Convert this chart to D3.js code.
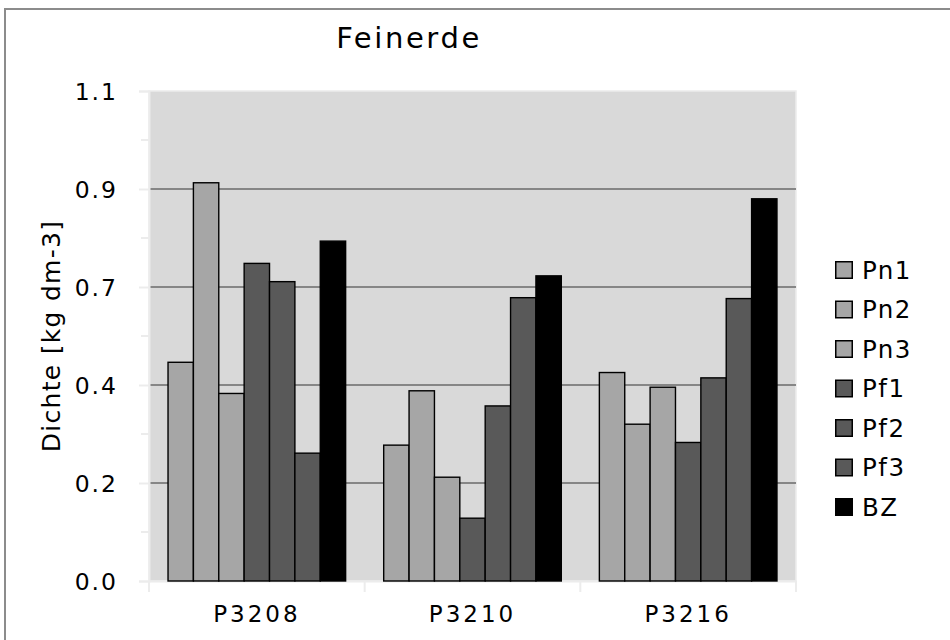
<!DOCTYPE html>
<html>
<head>
<meta charset="utf-8">
<script src="https://cdn.jsdelivr.net/npm/d3@7"></script>
<style>
  html, body { margin: 0; padding: 0; background: #fff; }
  svg { display: block; font-family: "DejaVu Sans", sans-serif; }
</style>
</head>
<body>
<svg id="chart" width="950" height="640"></svg>
<script>
// Feinerde density per profile and sample series
const categories = ["P3208", "P3210", "P3216"];
const seriesNames = ["Pn1", "Pn2", "Pn3", "Pf1", "Pf2", "Pf3", "BZ"];
const seriesColors = ["#a6a6a6", "#a6a6a6", "#a6a6a6", "#595959", "#595959", "#595959", "#000000"];
const Pn1 = [0.491, 0.305, 0.468];
const Pn2 = [0.894, 0.427, 0.352];
const Pn3 = [0.421, 0.233, 0.435];
const Pf1 = [0.713, 0.141, 0.311];
const Pf2 = [0.672, 0.393, 0.456];
const Pf3 = [0.287, 0.636, 0.634];
const BZ  = [0.763, 0.685, 0.858];
const yTicks = [0, 0.22, 0.44, 0.66, 0.88, 1.1];
const yMinorTicks = [0.11, 0.33, 0.55, 0.77, 0.99];

const seriesValues = [Pn1, Pn2, Pn3, Pf1, Pf2, Pf3, BZ];
const svg = d3.select("#chart");

const plot = { left: 149, right: 796, top: 91, bottom: 581 };

// outer chart frame
svg.append("rect")
  .attr("x", 5).attr("y", 9).attr("width", 1000).attr("height", 1000)
  .attr("fill", "#fff").attr("stroke", "#8c8c8c").attr("stroke-width", 2);

const x0 = d3.scaleBand().domain(categories).range([plot.left, plot.right]).paddingInner(0).paddingOuter(0);
const barW = x0.bandwidth() / (seriesNames.length + 1.5);
const x1 = d3.scaleBand().domain(seriesNames)
  .range([barW * 0.75, barW * 0.75 + barW * seriesNames.length]);
const y = d3.scaleLinear().domain([0, 1.1]).range([plot.bottom, plot.top]);

// plot background
svg.append("rect")
  .attr("x", plot.left).attr("y", plot.top)
  .attr("width", plot.right - plot.left).attr("height", plot.bottom - plot.top)
  .attr("fill", "#d9d9d9").attr("stroke", "#ececec").attr("stroke-width", 1.5);

// gridlines
svg.append("g").selectAll("line")
  .data(yTicks.filter(d => d > 0 && d < 1.1))
  .join("line")
  .attr("x1", plot.left).attr("x2", plot.right)
  .attr("y1", d => y(d)).attr("y2", d => y(d))
  .attr("stroke", "#868686").attr("stroke-width", 2.2);

// y axis
const yAxis = d3.axisLeft(y).tickValues(yTicks).tickFormat(d3.format(".1f")).tickSize(10).tickPadding(21);
const gy = svg.append("g").attr("transform", `translate(${plot.left},0)`).call(yAxis);
gy.select(".domain").attr("stroke", "#ececec").attr("stroke-width", 2);
gy.selectAll(".tick line").attr("stroke", "#ececec").attr("stroke-width", 2);
gy.selectAll(".tick text")
  .attr("font-size", 23.5).attr("fill", "#000")
  .attr("font-family", "DejaVu Sans, sans-serif")
  .attr("letter-spacing", 2)
  .attr("dy", "0.36em");
gy.append("g").selectAll("line")
  .data(yMinorTicks)
  .join("line")
  .attr("x1", -8).attr("x2", 0)
  .attr("y1", d => y(d)).attr("y2", d => y(d))
  .attr("stroke", "#ececec").attr("stroke-width", 2);

// x axis
const gx = svg.append("g").attr("transform", `translate(0,${plot.bottom})`)
  .call(d3.axisBottom(x0).tickSize(0).tickPadding(36));
gx.select(".domain").attr("stroke", "#ececec").attr("stroke-width", 2);
gx.selectAll(".tick text")
  .attr("font-size", 23).attr("fill", "#000")
  .attr("font-family", "DejaVu Sans, sans-serif")
  .attr("letter-spacing", 3)
  .attr("dy", "0.2em");
gx.append("g").selectAll("line")
  .data(categories.map(c => x0(c)).concat([plot.right]))
  .join("line")
  .attr("x1", d => d).attr("x2", d => d)
  .attr("y1", 0).attr("y2", 11)
  .attr("stroke", "#ececec").attr("stroke-width", 2);

// bars
const groups = svg.append("g").selectAll("g")
  .data(categories)
  .join("g")
  .attr("transform", d => `translate(${x0(d)},0)`);
groups.selectAll("rect")
  .data((c, ci) => seriesNames.map((s, si) => ({ s, si, v: seriesValues[si][ci] })))
  .join("rect")
  .attr("x", d => x1(d.s))
  .attr("width", x1.bandwidth())
  .attr("y", d => y(d.v))
  .attr("height", d => y(0) - y(d.v))
  .attr("fill", d => seriesColors[d.si])
  .attr("stroke", "#000").attr("stroke-width", 1.4);

// title
svg.append("text")
  .attr("x", 409).attr("y", 48)
  .attr("text-anchor", "middle")
  .attr("font-size", 29).attr("letter-spacing", 2.6)
  .attr("fill", "#000")
  .text("Feinerde");

// y axis title
svg.append("text")
  .attr("transform", `translate(60,${(plot.top + plot.bottom) / 2}) rotate(-90)`)
  .attr("text-anchor", "middle")
  .attr("font-size", 25).attr("letter-spacing", 1.3)
  .attr("fill", "#000")
  .text("Dichte [kg dm-3]");

// legend
const legend = svg.append("g").attr("transform", "translate(835,261)");
const rows = legend.selectAll("g")
  .data(seriesNames)
  .join("g")
  .attr("transform", (d, i) => `translate(0,${i * 39.5})`);
rows.append("rect")
  .attr("x", 0.75).attr("y", 0.75).attr("width", 16.5).attr("height", 16.5)
  .attr("fill", (d, i) => seriesColors[i])
  .attr("stroke", "#000").attr("stroke-width", 1.5);
rows.append("text")
  .attr("x", 27).attr("y", 9).attr("dy", "0.36em")
  .attr("font-size", 24.5).attr("letter-spacing", 1.5)
  .attr("fill", "#000")
  .text(d => d);
</script>
</body>
</html>
